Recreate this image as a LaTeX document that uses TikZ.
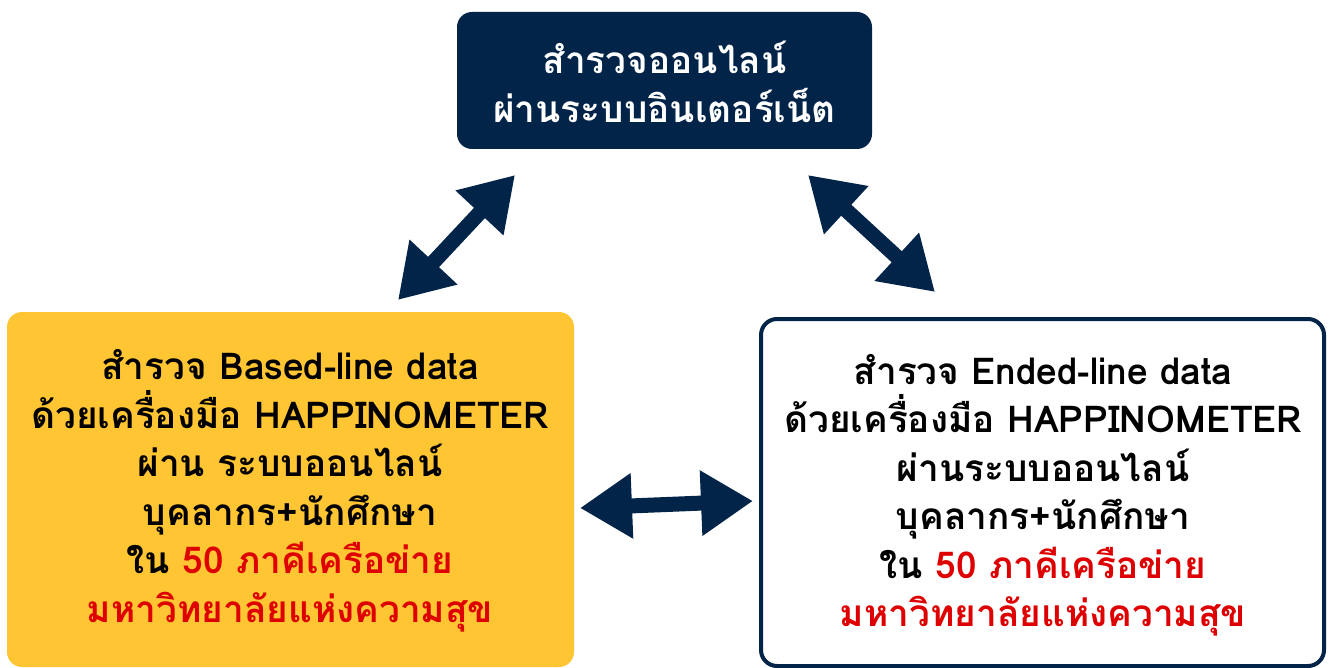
\documentclass[tikz,border=0pt]{standalone}
\usepackage{fontspec}
\usetikzlibrary{arrows.meta}
\newfontfamily\thaifont[Script=Thai]{Loma}
\definecolor{navy}{RGB}{2,36,72}
\definecolor{boxyellow}{RGB}{255,197,51}
\definecolor{textred}{RGB}{222,0,0}
\tikzset{
  boxtext/.style={align=center, font=\thaifont\bfseries\fontsize{37}{48.5}\selectfont},
  bigarrow/.style={draw=navy, line width=15pt, {Triangle[width=62pt,length=52pt]}-{Triangle[width=62pt,length=52pt]}, color=navy}
}
\begin{document}
\begin{tikzpicture}[x=1pt,y=-1pt]
\useasboundingbox (0,0) rectangle (1330,668);
% boxes
\fill[navy, rounded corners=15pt] (457,12) rectangle (872,149);
\fill[boxyellow, rounded corners=15pt] (7,312) rectangle (574,667);
\draw[navy, line width=4pt, fill=white, rounded corners=16pt] (761,319) rectangle (1324,666);
% texts
\node[boxtext, text=white] (top) at (664.5,82) {สำรวจออนไลน์\\ผ่านระบบอินเตอร์เน็ต};
\node[boxtext, text=black] (left) at (290,491) {สำรวจ Based-line data\\ด้วยเครื่องมือ HAPPINOMETER\\ผ่าน ระบบออนไลน์\\บุคลากร+นักศึกษา\\ใน \textcolor{textred}{50 ภาคีเครือข่าย}\\\textcolor{textred}{มหาวิทยาลัยแห่งความสุข}};
\node[boxtext, text=black] (right) at (1043,495.5) {สำรวจ Ended-line data\\ด้วยเครื่องมือ HAPPINOMETER\\ผ่านระบบออนไลน์\\บุคลากร+นักศึกษา\\ใน \textcolor{textred}{50 ภาคีเครือข่าย}\\\textcolor{textred}{มหาวิทยาลัยแห่งความสุข}};
% arrow ends
\coordinate (a1s) at (398,300);
\coordinate (a1e) at (515,175);
\coordinate (a2s) at (808,175);
\coordinate (a2e) at (935,292);
\coordinate (a3s) at (580,508);
\coordinate (a3e) at (753,501);
\draw[bigarrow] (a1s) -- (a1e);
\draw[bigarrow] (a2s) -- (a2e);
\draw[bigarrow] (a3s) -- (a3e);
\end{tikzpicture}
\end{document}
